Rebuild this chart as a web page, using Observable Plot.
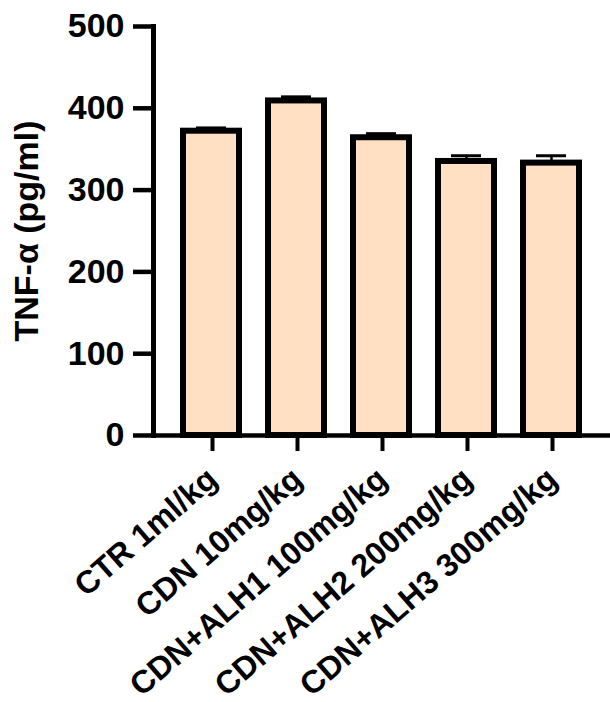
<!DOCTYPE html>
<html><head><meta charset="utf-8">
<script src="https://cdn.jsdelivr.net/npm/d3@7"></script>
<script src="https://cdn.jsdelivr.net/npm/@observablehq/plot@0.6"></script>
<style>body{margin:0;background:#fff}</style>
</head><body><div id="chart"></div>
<script>
const groups = ["CTR 1ml/kg","CDN 10mg/kg","CDN+ALH1 100mg/kg","CDN+ALH2 200mg/kg","CDN+ALH3 300mg/kg"];
const means = [372, 409, 364, 335, 333];
const errors = [4, 5, 5, 7, 9];
const yTicks = [0, 100, 200, 300, 400, 500];
const yLabel = "TNF-α (pg/ml)";
const data = groups.map((g, i) => ({group: g, mean: means[i], err: errors[i]}));

const chart = Plot.plot({
  width: 610, height: 702,
  marginLeft: 153, marginRight: 0, marginTop: 26, marginBottom: 267,
  style: {fontFamily: "'Liberation Sans', Arial, sans-serif", fontWeight: "bold", fontSize: "34px", color: "#000", background: "#fff"},
  x: {domain: groups, padding: 0.34, label: null},
  y: {domain: [0, 500], label: yLabel},
  marks: [
    Plot.barY(data, {x: "group", y: "mean", fill: "#ffe0c2", stroke: "#000", strokeWidth: 6}),
    Plot.ruleX(data, {x: "group", y1: "mean", y2: d => d.mean + d.err, strokeWidth: 2.5}),
    Plot.tickY(data, {x: "group", y: d => d.mean + d.err, strokeWidth: 3, insetLeft: 13, insetRight: 13}),
    Plot.ruleY([0], {strokeWidth: 4.5}),
    Plot.frame({anchor: "left", strokeWidth: 5}),
    Plot.axisY({ticks: yTicks, tickSize: 20, strokeWidth: 4.5, tickPadding: 9, label: yLabel, labelAnchor: "center", labelArrow: "none", labelOffset: 140, fontSize: 34, fontWeight: "bold"}),
    Plot.axisX({tickSize: 16, strokeWidth: 4, tickRotate: -41, tickPadding: 23, dx: 1, label: null, fontSize: 32, fontWeight: "bold"})
  ]
});
document.getElementById("chart").append(chart);
</script>
</body></html>
